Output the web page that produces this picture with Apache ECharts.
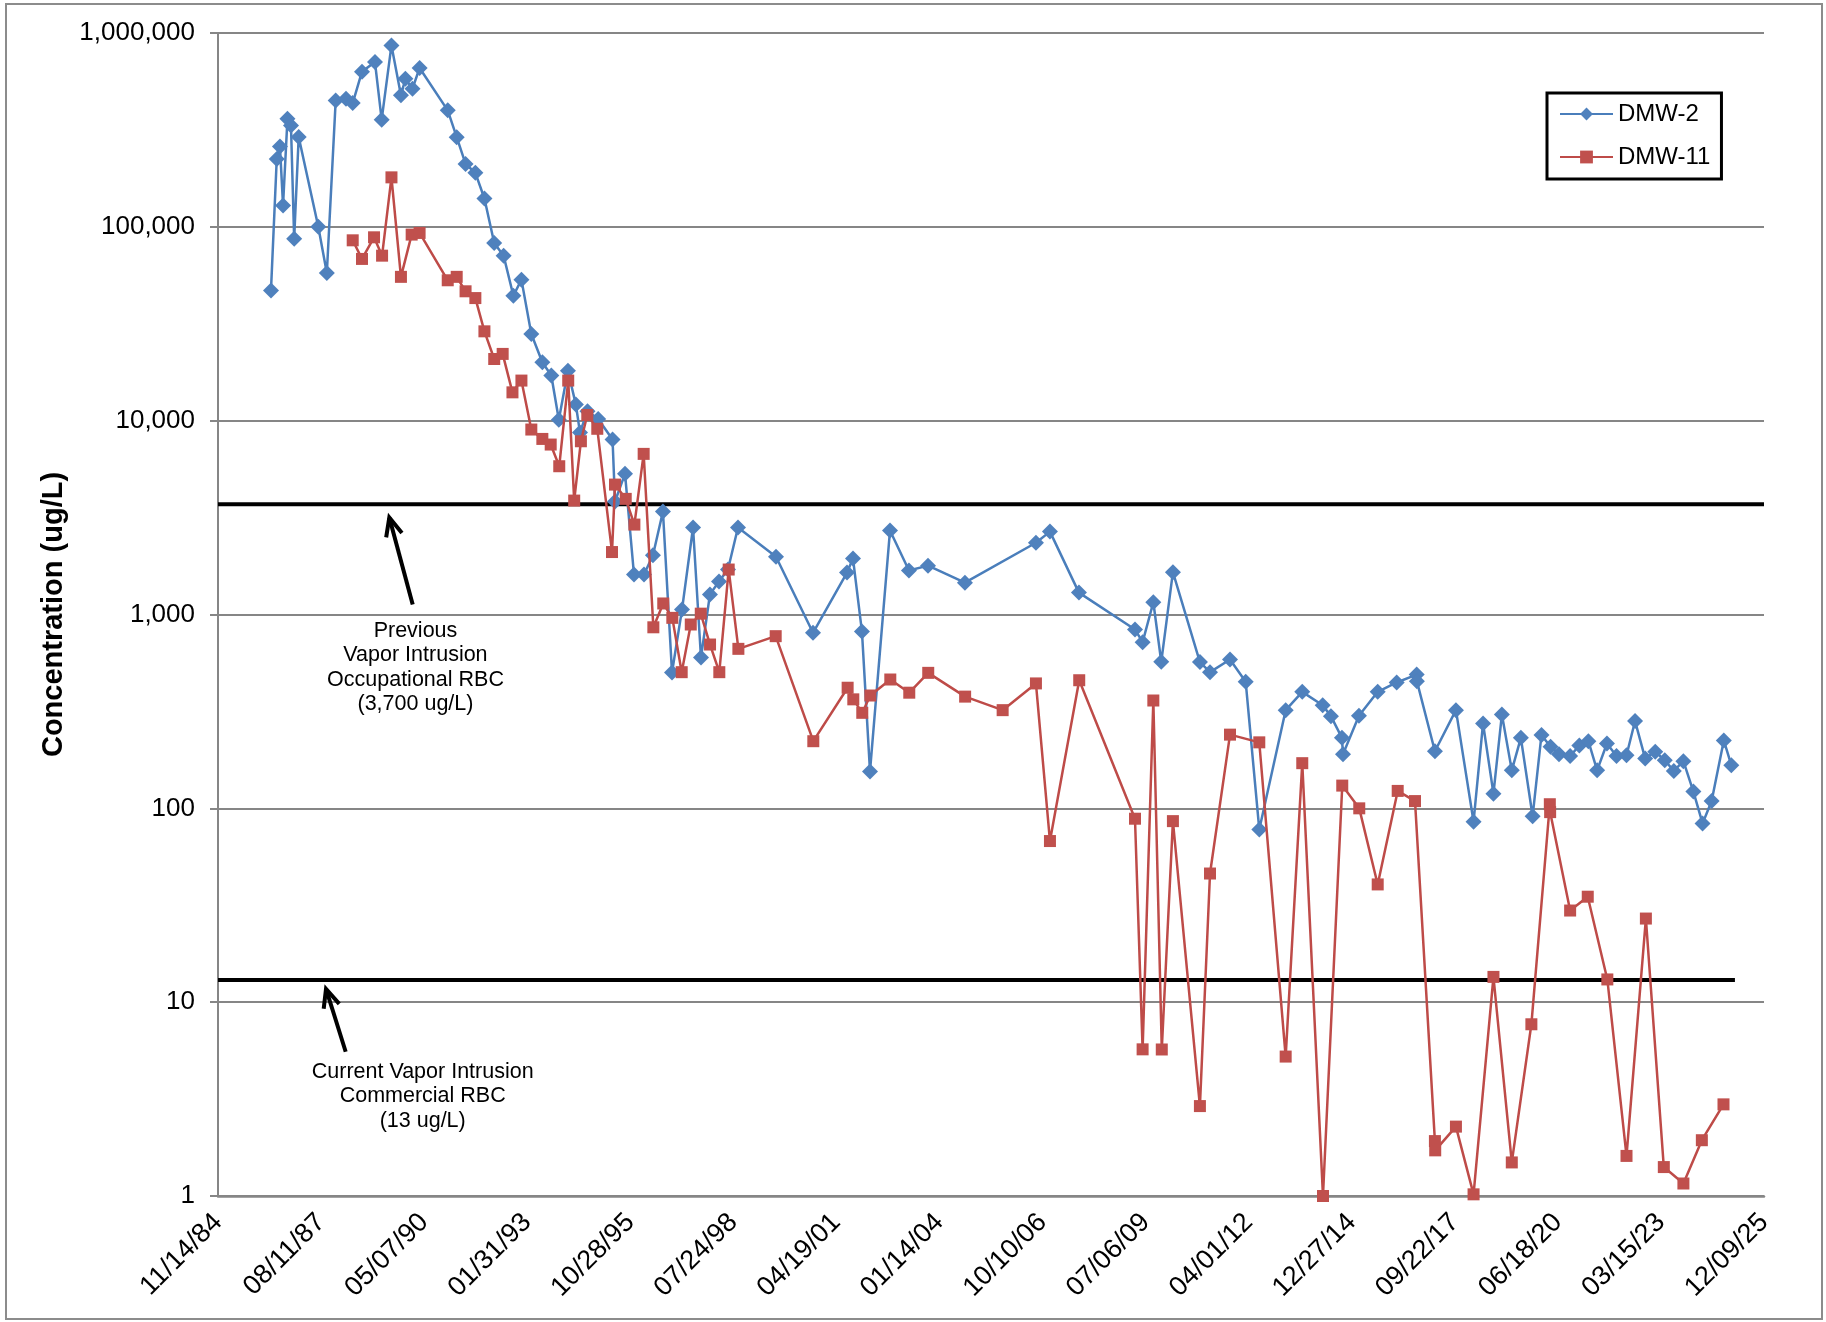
<!DOCTYPE html>
<html><head><meta charset="utf-8">
<script src="https://cdn.jsdelivr.net/npm/echarts@6/dist/echarts.min.js"></script>
<style>html,body{margin:0;padding:0;background:#fff}#c{width:1826px;height:1322px}</style>
</head><body><div id="c"></div>
<script>
const FONT = '"Liberation Sans", Arial, Helvetica, sans-serif';

// Sampling dates stored as Excel serial day numbers (days since 1899-12-30)
const dmw2Dates = [31514,31570,31601,31631,31674,31708,31739,31783,31973,32056,32142,32242,32307,32397,32523,32588,32683,32775,32818,32887,32956,33229,33316,33402,33497,33585,33680,33771,33866,33944,34040,34147,34234,34307,34395,34472,34512,34585,34689,34828,34852,34949,35036,35133,35220,35317,35405,35502,35609,35686,35773,35861,35948,36045,36414,36773,37103,37161,37248,37326,37520,37704,37889,38247,38936,39072,39353,39897,39971,40075,40152,40265,40527,40625,40819,40971,41103,41359,41520,41718,41798,41905,41915,42070,42252,42436,42630,42632,42807,43011,43182,43274,43375,43457,43553,43641,43755,43841,43929,44011,44119,44208,44296,44381,44476,44569,44666,44749,44847,44945,45037,45125,45218,45315,45404,45492,45610,45683];
const dmw2Values = [46900,224000,260000,129000,361000,333000,86900,291000,100000,57800,449000,458000,435000,632000,708000,357000,863000,477000,581000,516000,660000,399000,290000,211000,190000,140000,82600,71000,44100,53400,28000,20000,17100,10100,18100,12100,8700,11200,10200,8000,3830,5330,1610,1610,2020,3400,502,1060,2810,600,1270,1480,1706,2810,1985,805,1645,1944,816,155,2710,1686,1787,1460,2345,2677,1297,837,720,1157,570,1653,568,504,586,450,77.8,321,399,340,299,231,190,300,399,446,490,453,197,321,85.3,274,119,305,157,231,91,239,208,190,186,211,222,157,216,186,188,282,181,196,177,156,175,122,83.6,109,224,167];

const dmw11Dates = [32307,32397,32514,32592,32683,32775,32879,32956,33229,33316,33402,33497,33585,33680,33762,33857,33944,34040,34147,34228,34311,34398,34456,34521,34583,34680,34823,34852,34956,35040,35130,35224,35320,35408,35499,35587,35684,35774,35864,35955,36049,36411,36776,37109,37164,37251,37329,37523,37707,37891,38249,38613,38936,39072,39356,39897,39971,40075,40157,40265,40527,40625,40819,41103,41359,41520,41721,41908,42073,42252,42446,42614,42807,42810,43011,43182,43375,43553,43743,43922,43925,44119,44290,44480,44666,44854,45028,45218,45397,45607];
const dmw11Values = [85200,68300,88300,71000,180000,55200,91200,93000,53000,55200,46500,42900,28900,20800,22100,14000,16100,9000,8050,7530,5820,16100,3870,7830,10700,9080,2100,4680,3950,2910,6740,859,1140,961,504,888,1010,700,504,1706,665,773,222,419,365,311,382,462,395,500,377,321,441,67.8,458,88.4,5.71,360,5.7,85.9,2.91,46.1,240,219,5.24,171,1.0,131,100,40.5,123,109,1.92,1.72,2.28,1.02,13.5,1.49,7.69,105,95.6,29.7,35,13.1,1.61,27,1.41,1.16,1.94,2.97];

// Axis settings
const xMin = 31000, xMax = 46000, xStep = 1000;   // 11/14/84 .. 12/09/25 every 1000 days
const yMin = 1, yMax = 1000000;

// Reference levels
const prevRBC = 3700, prevRBCDates = [31000, 46000];
const currRBC = 13,   currRBCDates = [31000, 45718];

// Annotations (data coordinates)
const note1Text = 'Previous\nVapor Intrusion\nOccupational RBC\n(3,700 ug/L)';
const note1Pos = [32916, 533];
const arrow1 = {tail: [32889, 1127], tip: [32662, 3162]};
const note2Text = 'Current Vapor Intrusion\nCommercial RBC\n(13 ug/L)';
const note2Pos = [32986, 3.27];
const arrow2 = {tail: [32239, 5.55], tip: [32048, 11.7]};

function serialToLabel(s){
  const d = new Date(Date.UTC(1899,11,30) + Math.round(s)*86400000);
  const p = n => String(n).padStart(2,'0');
  return p(d.getUTCMonth()+1) + '/' + p(d.getUTCDate()) + '/' + p(d.getUTCFullYear() % 100);
}
const zip = (xs, ys) => xs.map((x,i)=>[x, ys[i]]);

const chart = echarts.init(document.getElementById('c'), null, {renderer:'canvas'});
const GRID = '#868686';
chart.setOption({
  animation:false,
  backgroundColor:'#fff',
  grid:{left:218, right:62, top:33, bottom:126, containLabel:false},
  legend:{
    data:['DMW-2','DMW-11'], orient:'vertical', left:1547, top:93,
    padding:[8,11,9,12], borderColor:'#000', borderWidth:3,
    itemWidth:53, itemHeight:16, itemGap:17,
    textStyle:{fontSize:24, fontFamily:FONT, color:'#000', lineHeight:26}
  },
  xAxis:{
    type:'value', min:xMin, max:xMax, interval:xStep,
    axisLine:{show:true, onZero:false, lineStyle:{color:GRID, width:2.5}},
    axisTick:{show:false},
    splitLine:{show:false},
    axisLabel:{rotate:45, margin:22, fontSize:27, fontFamily:FONT, color:'#000',
      formatter: v => serialToLabel(v), showMinLabel:true, showMaxLabel:true}
  },
  yAxis:{
    type:'log', logBase:10, min:yMin, max:yMax, splitNumber:6,
    name:'Concentration (ug/L)', nameLocation:'middle', nameGap:150, nameRotate:90,
    nameTextStyle:{fontSize:29, fontWeight:'bold', fontFamily:FONT, color:'#000'},
    axisLine:{show:true, lineStyle:{color:GRID, width:2}},
    axisTick:{show:true, length:8, lineStyle:{color:GRID, width:2}},
    splitLine:{show:true, lineStyle:{color:GRID, width:2}},
    axisLabel:{margin:23, fontSize:26, fontFamily:FONT, color:'#000',
      formatter: v => Math.round(v).toLocaleString('en-US')}
  },
  series:[
    {name:'prev', type:'line', data:zip(prevRBCDates,[prevRBC,prevRBC]), symbol:'none',
     lineStyle:{color:'#000', width:4}, silent:true, z:1},
    {name:'curr', type:'line', data:zip(currRBCDates,[currRBC,currRBC]), symbol:'none',
     lineStyle:{color:'#000', width:4}, silent:true, z:1},
    {name:'DMW-2', type:'line', data:zip(dmw2Dates, dmw2Values),
     symbol:'diamond', symbolSize:16, showAllSymbol:true,
     lineStyle:{color:'#4A7EBB', width:2.5}, itemStyle:{color:'#4F81BD'}, z:3},
    {name:'DMW-11', type:'line', data:zip(dmw11Dates, dmw11Values),
     symbol:'rect', symbolSize:12, showAllSymbol:true,
     lineStyle:{color:'#BE4B48', width:2.5}, itemStyle:{color:'#C0504D'}, z:4}
  ]
});

function px(p){ return chart.convertToPixel({gridIndex:0}, p); }
function arrowGraphics(a){
  const t = px(a.tail), h = px(a.tip);
  const ang = Math.atan2(h[1]-t[1], h[0]-t[0]);
  const L = 20, spread = 0.42;
  const p1 = [h[0]-L*Math.cos(ang-spread), h[1]-L*Math.sin(ang-spread)];
  const p2 = [h[0]-L*Math.cos(ang+spread), h[1]-L*Math.sin(ang+spread)];
  return [
    {type:'polyline', shape:{points:[t,h]}, style:{stroke:'#000', lineWidth:4, fill:null}},
    {type:'polyline', shape:{points:[p1,h,p2]}, style:{stroke:'#000', lineWidth:4, fill:null, lineJoin:'miter'}}
  ];
}
const n1 = px(note1Pos), n2 = px(note2Pos);
chart.setOption({
  graphic:[
    {type:'rect', shape:{x:6, y:4, width:1816, height:1315}, style:{fill:null, stroke:'#8c8c8c', lineWidth:2}, silent:true},
    ...arrowGraphics(arrow1), ...arrowGraphics(arrow2),
    {type:'text', x:n1[0], y:n1[1], style:{text:note1Text, font:'21.5px '+FONT, fill:'#000', align:'center', verticalAlign:'middle', lineHeight:24.5}},
    {type:'text', x:n2[0], y:n2[1], style:{text:note2Text, font:'21.5px '+FONT, fill:'#000', align:'center', verticalAlign:'middle', lineHeight:24.5}}
  ]
});
</script>
</body></html>
